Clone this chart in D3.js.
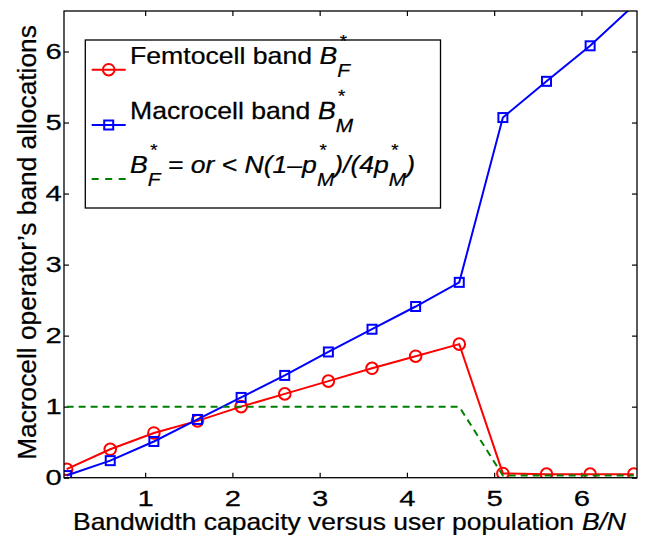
<!DOCTYPE html>
<html>
<head>
<meta charset="utf-8">
<script src="https://cdn.jsdelivr.net/npm/d3@7"></script>
<style>
  body { margin: 0; background: #fff; }
  text { font-family: "Liberation Sans", Arial, Helvetica, sans-serif; fill: #000; stroke: #000; stroke-width: 0.25px; }
</style>
</head>
<body>
<svg id="chart" width="647" height="536"></svg>
<script>
// Data
var xValues = [0.1, 0.6, 1.1, 1.6, 2.1, 2.6, 3.1, 3.6, 4.1, 4.6, 5.1, 5.6, 6.1, 6.6];
var femtoBand = [0.12, 0.40, 0.63, 0.80, 1.00, 1.18, 1.36, 1.54, 1.71, 1.88, 0.06, 0.05, 0.05, 0.05];
var macroBand = [0.03, 0.24, 0.51, 0.82, 1.13, 1.44, 1.77, 2.09, 2.41, 2.75, 5.07, 5.58, 6.08, 6.65];
var thresholdBand = [1, 1, 1, 1, 1, 1, 1, 1, 1, 1, 0.03, 0.03, 0.03, 0.03];
var xTicks = [1, 2, 3, 4, 5, 6];
var yTicks = [0, 1, 2, 3, 4, 5, 6];
var xLabel = [{t: 'Bandwidth capacity versus user population '}, {t: 'B/N', i: true}];
var yLabel = 'Macrocell operator\u2019s band allocations';
var legendLabels = [
  [{t: 'Femtocell band '}, {t: 'B', i: true, sup: '*', sub: 'F'}],
  [{t: 'Macrocell band '}, {t: 'B', i: true, sup: '*', sub: 'M'}],
  [{t: 'B', i: true, sup: '*', sub: 'F'}, {t: ' = or < N(1\u2013p', i: true, sup: '*', sub: 'M'},
   {t: ')/(4p', i: true, sup: '*', sub: 'M'}, {t: ')', i: true}]
];

var svg = d3.select('#chart');

// Plot area
var plotLeft = 64, plotRight = 637, plotTop = 11, plotBottom = 477.7;
var x = d3.scaleLinear().domain([0.07, 6.637]).range([plotLeft, plotRight]);
var y = d3.scaleLinear().domain([0, 6.57]).range([plotBottom, plotTop]);

svg.append('rect').attr('width', 647).attr('height', 536).attr('fill', '#fff');

svg.append('clipPath').attr('id', 'plotclip')
   .append('rect')
   .attr('x', plotLeft).attr('y', plotTop)
   .attr('width', plotRight - plotLeft).attr('height', plotBottom - plotTop);

// Axes (ticks inside, mirrored on top/right)
var tickScale = 1.3;

var xAxis = svg.append('g')
   .attr('transform', 'translate(0,' + plotBottom + ')')
   .call(d3.axisBottom(x).tickValues(xTicks).tickSize(-5).tickSizeOuter(0)
           .tickPadding(12).tickFormat(d3.format('d')));
svg.append('g')
   .attr('transform', 'translate(0,' + plotTop + ')')
   .call(d3.axisTop(x).tickValues(xTicks).tickSize(-5).tickSizeOuter(0).tickFormat(''));
var yAxis = svg.append('g')
   .attr('transform', 'translate(' + plotLeft + ',0)')
   .call(d3.axisLeft(y).tickValues(yTicks).tickSize(-5).tickSizeOuter(0)
           .tickPadding(1.8).tickFormat(d3.format('d')));
svg.append('g')
   .attr('transform', 'translate(' + plotRight + ',0)')
   .call(d3.axisRight(y).tickValues(yTicks).tickSize(-5).tickSizeOuter(0).tickFormat(''));

svg.selectAll('.domain').remove();
svg.selectAll('.tick line').attr('stroke', '#000').attr('stroke-width', 1.2);
[xAxis, yAxis].forEach(function(a) {
  a.selectAll('text')
   .attr('fill', '#000')
   .style('font-size', '22.5px')
   .style('font-family', '"Liberation Sans", Arial, sans-serif')
   .attr('transform', 'scale(' + tickScale + ',1)');
});

// Series
var plot = svg.append('g').attr('clip-path', 'url(#plotclip)');

function pts(values) {
  return values.map(function(v, i) { return [xValues[i], v]; });
}

var line = d3.line()
    .x(function(d) { return x(d[0]); })
    .y(function(d) { return y(d[1]); });

// Femtocell band
plot.append('path')
    .datum(pts(femtoBand))
    .attr('d', line)
    .attr('fill', 'none').attr('stroke', '#ff0000').attr('stroke-width', 2);
plot.selectAll('circle.femto')
    .data(pts(femtoBand))
    .enter().append('circle')
    .attr('class', 'femto')
    .attr('cx', function(d) { return x(d[0]); })
    .attr('cy', function(d) { return y(d[1]); })
    .attr('r', 5.8)
    .attr('fill', 'none').attr('stroke', '#ff0000').attr('stroke-width', 2);

// Macrocell band
plot.append('path')
    .datum(pts(macroBand))
    .attr('d', line)
    .attr('fill', 'none').attr('stroke', '#0000ff').attr('stroke-width', 2);
plot.selectAll('rect.macro')
    .data(pts(macroBand))
    .enter().append('rect')
    .attr('class', 'macro')
    .attr('x', function(d) { return x(d[0]) - 4.5; })
    .attr('y', function(d) { return y(d[1]) - 4.5; })
    .attr('width', 9).attr('height', 9)
    .attr('fill', 'none').attr('stroke', '#0000ff').attr('stroke-width', 2);

// Threshold
plot.append('path')
    .datum(pts(thresholdBand))
    .attr('d', line)
    .attr('fill', 'none').attr('stroke', '#008000').attr('stroke-width', 2)
    .attr('stroke-dasharray', '7,5');

// Axes box
svg.append('rect')
   .attr('x', plotLeft).attr('y', plotTop)
   .attr('width', plotRight - plotLeft).attr('height', plotBottom - plotTop)
   .attr('fill', 'none').attr('stroke', '#000').attr('stroke-width', 1.3);

// Text with TeX-like super/subscripts, stretched to a given width
function drawMath(g, parts, size) {
  var cx = 0;
  parts.forEach(function(p) {
    var t = g.append('text').attr('x', cx).attr('y', 0)
      .style('font-size', size + 'px')
      .style('font-style', p.i ? 'italic' : 'normal')
      .style('white-space', 'pre')
      .text(p.t);
    cx += t.node().getComputedTextLength();
    var adv = 0;
    if (p.sup) {
      var s = g.append('text').attr('x', cx + 1.5).attr('y', -16.5)
        .style('font-size', '16px').style('font-style', 'italic').text(p.sup);
      adv = Math.max(adv, s.node().getComputedTextLength() + 1.5);
    }
    if (p.sub) {
      var b = g.append('text').attr('x', cx).attr('y', 13.4)
        .style('font-size', '18px').style('font-style', 'italic').text(p.sub);
      adv = Math.max(adv, b.node().getComputedTextLength());
    }
    cx += adv;
  });
  return cx;
}

function fitMath(parts, size, x0, baseline, width) {
  var g = svg.append('g');
  var w = drawMath(g, parts, size);
  g.attr('transform', 'translate(' + x0 + ',' + baseline + ') scale(' + (width / w) + ',1)');
  return g;
}

// Legend
var legX = 85.3, legY = 40, legW = 355.2, legH = 168;
svg.append('rect')
   .attr('x', legX).attr('y', legY).attr('width', legW).attr('height', legH)
   .attr('fill', '#fff').attr('stroke', '#000').attr('stroke-width', 1.3);

var legendRows = [69.7, 125, 179];
var legendWidths = [220, 223, 285];
var legendColors = ['#ff0000', '#0000ff', '#008000'];

legendRows.forEach(function(ly, i) {
  var sample = svg.append('line')
     .attr('x1', 91.7).attr('x2', 125.7).attr('y1', ly).attr('y2', ly)
     .attr('stroke', legendColors[i]).attr('stroke-width', 2);
  if (i === 2) sample.attr('stroke-dasharray', '7,6.5');
  if (i === 0) {
    svg.append('circle').attr('cx', 108.7).attr('cy', ly).attr('r', 5.8)
       .attr('fill', 'none').attr('stroke', legendColors[i]).attr('stroke-width', 2);
  } else if (i === 1) {
    svg.append('rect').attr('x', 108.7 - 4.5).attr('y', ly - 4.5)
       .attr('width', 9).attr('height', 9)
       .attr('fill', 'none').attr('stroke', legendColors[i]).attr('stroke-width', 2);
  }
  fitMath(legendLabels[i], 23, 130, ly - 6.2, legendWidths[i]);
});

// Axis labels
fitMath(xLabel, 23, 73, 530, 553);

var yl = svg.append('g').attr('transform', 'translate(36,242.5) rotate(-90)');
var ylt = yl.append('text')
   .attr('text-anchor', 'middle')
   .style('font-size', '26px')
   .text(yLabel);
var ylw = ylt.node().getComputedTextLength();
ylt.attr('transform', 'scale(' + (435 / ylw) + ',1)');
</script>
</body>
</html>
